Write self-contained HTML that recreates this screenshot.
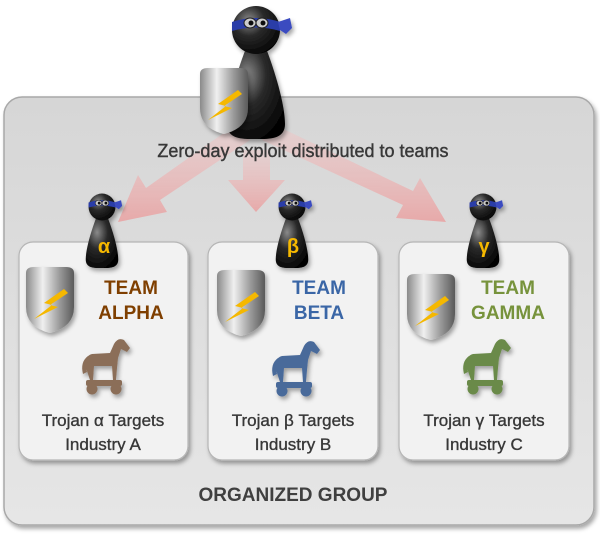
<!DOCTYPE html>
<html><head><meta charset="utf-8"><style>
html,body{margin:0;padding:0;background:#fff;width:600px;height:537px;overflow:hidden}
svg text{font-family:"Liberation Sans","DejaVu Sans",sans-serif}
</style></head><body>
<svg width="600" height="537" viewBox="0 0 600 537" xmlns="http://www.w3.org/2000/svg">
<defs>
<linearGradient id="og" x1="0" y1="0" x2="0" y2="1"><stop offset="0" stop-color="#d6d6d6"/><stop offset="1" stop-color="#e6e6e6"/></linearGradient>
<linearGradient id="sg" x1="0" y1="0" x2="1" y2="0"><stop offset="0" stop-color="#8a8a8a"/><stop offset="0.35" stop-color="#f0f0f0"/><stop offset="0.7" stop-color="#9a9a9a"/><stop offset="1" stop-color="#5a5a5a"/></linearGradient>
<radialGradient id="ng" cx="0.35" cy="0.3" r="0.8"><stop offset="0" stop-color="#8a8a8a"/><stop offset="0.4" stop-color="#2a2a2a"/><stop offset="1" stop-color="#000"/></radialGradient>
<linearGradient id="ar" x1="0" y1="0" x2="0" y2="1"><stop offset="0" stop-color="#f2c6c6" stop-opacity="0.5"/><stop offset="1" stop-color="#eb9a9a" stop-opacity="0.9"/></linearGradient>
<filter id="sh" x="-10%" y="-10%" width="130%" height="130%"><feDropShadow dx="2" dy="3" stdDeviation="2" flood-color="#000" flood-opacity="0.35"/></filter>
<g id="ninja">
<path d="M-10 18 C-22 50 -29 78 -29 94 C-29 110 -12 109 0 109 C12 109 29 110 29 94 C29 78 22 50 10 18 Z" fill="url(#ng)"/>
<circle cx="0" cy="0" r="24" fill="url(#ng)"/>
<path d="M-24 -8 Q0 -16 24 -8 L24 1 Q0 -6 -24 1 Z" fill="#2b3ca8"/>
<path d="M22 -8 L34 -12 L36 -2 L30 4 L24 0 Z" fill="#3a4cc0"/>
<ellipse cx="-6" cy="-7" rx="6" ry="5" fill="#ccc" stroke="#222"/>
<ellipse cx="6" cy="-7" rx="6" ry="5" fill="#ccc" stroke="#222"/>
<circle cx="-5" cy="-7" r="2.5" fill="#111"/><circle cx="7" cy="-7" r="2.5" fill="#111"/>
</g>
<g id="shield">
<path d="M0 8 Q0 2 8 2 L40 2 Q48 2 48 8 L48 42 Q48 62 24 68 Q0 62 0 42 Z" fill="url(#sg)"/>
<path d="M38 24 L18 38 L26 40 L8 54 L32 42 L24 40 L42 28 Z" fill="#f5b800"/>
</g>
<g id="horse">
<path d="M6 30 Q4 18 12 16 L30 15 L34 6 Q38 -1 44 2 L50 10 L47 14 L41 11 L38 20 L37 30 L36 42 L33 42 L32 28 L14 28 L13 42 L10 42 Z"/>
<path d="M8 18 Q0 24 3 36 L7 34 Q5 26 10 20 Z"/>
<rect x="6" y="42" width="36" height="6" rx="2"/>
<circle cx="12" cy="51" r="5.5"/><circle cx="36" cy="51" r="5.5"/>
</g>
</defs>

<rect x="4" y="97" width="590" height="428" rx="18" fill="url(#og)" stroke="#a8a8a8" stroke-width="1.5" filter="url(#sh)"/>

<g fill="url(#ar)" opacity="0.85">
<path d="M235 125 L250 140 L160 200 L167 212 L118 222 L138 175 L146 188 Z"/>
<path d="M243 150 L270 150 L270 180 L285 180 L256 212 L228 180 L243 180 Z"/>
<path d="M275 125 L262 140 L403 205 L396 218 L446 222 L420 178 L413 191 Z"/>
</g>

<text x="303" y="157" text-anchor="middle" font-size="18" fill="#383838" stroke="#383838" stroke-width="0.4">Zero-day exploit distributed to teams</text>

<g filter="url(#sh)"><use href="#ninja" transform="translate(256,30)"/></g>
<g filter="url(#sh)"><use href="#shield" transform="translate(200,66)"/></g>

<g filter="url(#sh)" fill="#f2f2f2" stroke="#b5b5b5" stroke-width="1.2">
<rect x="19" y="242" width="169" height="218" rx="14"/>
<rect x="208" y="242" width="170" height="218" rx="14"/>
<rect x="399" y="242" width="170" height="218" rx="14"/>
</g>

<g filter="url(#sh)">
<use href="#ninja" transform="translate(102,207) scale(0.56)"/>
<use href="#ninja" transform="translate(292,207) scale(0.56)"/>
<use href="#ninja" transform="translate(483,207) scale(0.56)"/>
</g>
<g font-size="20" font-weight="bold" fill="#f5b800" text-anchor="middle">
<text x="104" y="253">α</text><text x="293" y="253">β</text><text x="484" y="253">γ</text>
</g>

<g filter="url(#sh)">
<use href="#shield" transform="translate(26,265)"/>
<use href="#shield" transform="translate(217,268)"/>
<use href="#shield" transform="translate(407,272)"/>
</g>

<g font-size="19" font-weight="bold" text-anchor="middle">
<text x="131" y="294" fill="#7f3f00">TEAM</text><text x="131" y="319" fill="#7f3f00">ALPHA</text>
<text x="319" y="294" fill="#3a66a6">TEAM</text><text x="319" y="319" fill="#3a66a6">BETA</text>
<text x="508" y="294" fill="#77933c">TEAM</text><text x="508" y="319" fill="#77933c">GAMMA</text>
</g>

<g filter="url(#sh)">
<use href="#horse" transform="translate(80,338)" fill="#8b6e58"/>
<use href="#horse" transform="translate(270,340)" fill="#4a6a9a"/>
<use href="#horse" transform="translate(461,338)" fill="#6b8a4a"/>
</g>

<g font-size="17" fill="#383838" stroke="#383838" stroke-width="0.35" text-anchor="middle">
<text x="103" y="426">Trojan α Targets</text><text x="103" y="450">Industry A</text>
<text x="293" y="426">Trojan β Targets</text><text x="293" y="450">Industry B</text>
<text x="484" y="426">Trojan γ Targets</text><text x="484" y="450">Industry C</text>
</g>

<text x="293" y="501" text-anchor="middle" font-size="19" font-weight="bold" fill="#404040">ORGANIZED GROUP</text>
</svg>
</body></html>
